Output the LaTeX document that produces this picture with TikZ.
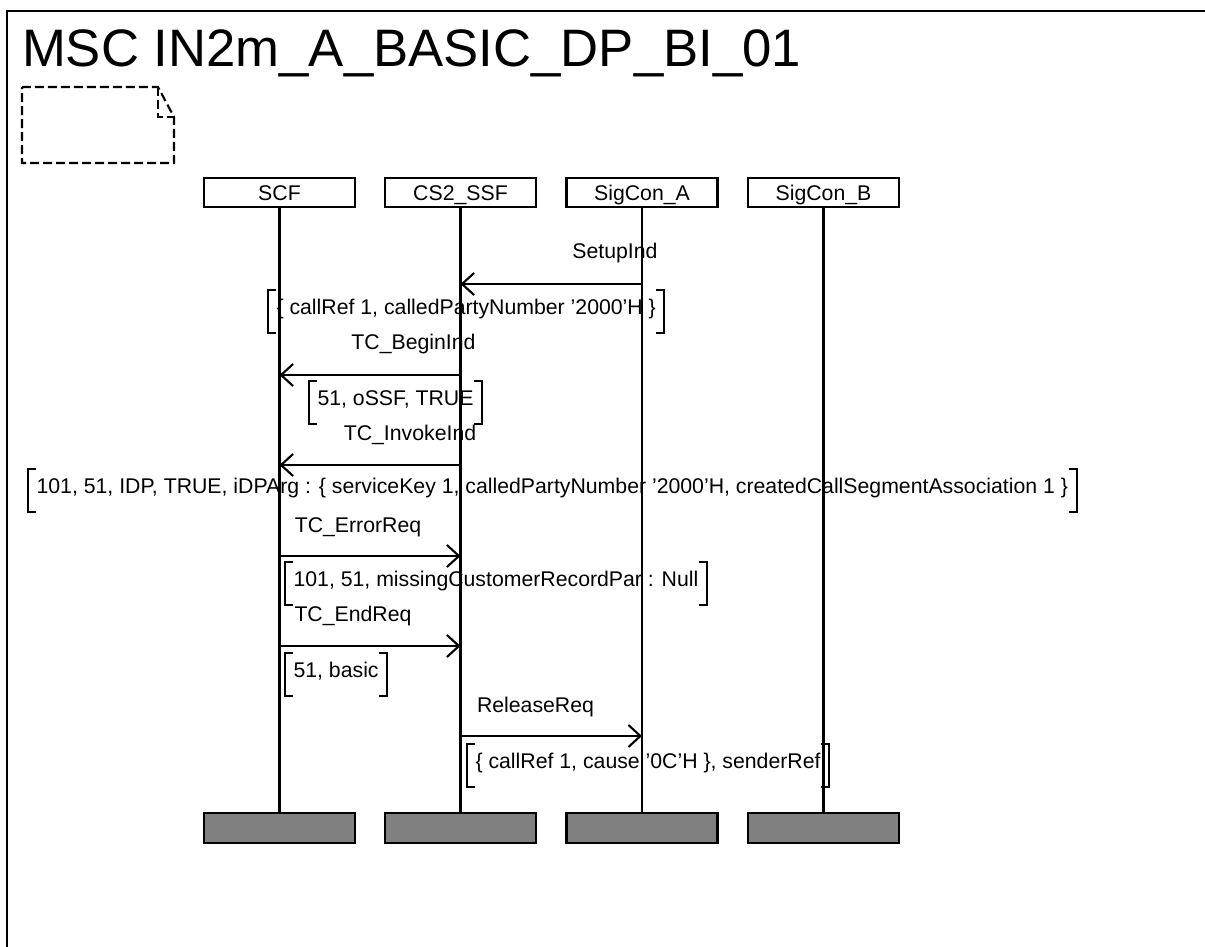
\documentclass[tikz,border=0pt]{standalone}
\usepackage{fontspec}
\setmainfont{Liberation Sans}
\usetikzlibrary{arrows.meta}

\begin{document}
\begin{tikzpicture}[x=0.02cm,y=-0.02cm,line width=1.2pt,
    every node/.style={font=\fontsize{12.1}{14}\selectfont},
    head/.style={draw,minimum width=3.02cm,minimum height=0.58cm,inner sep=0pt,text height=0.3cm,text depth=0cm},
    foot/.style={draw,fill=gray,minimum width=3.02cm,minimum height=0.6cm,inner sep=0pt},
    msg/.style={-{Straight Barb[length=0.24cm,width=0.44cm]}},
    lbl/.style={anchor=base,inner sep=0pt},
    param/.style={anchor=west,inner ysep=0pt,inner xsep=0.15cm,minimum height=0.82cm,text height=0.3cm,text depth=0.2cm},
    note/.style={dash pattern=on 0.18cm off 0.08cm}]
    \useasboundingbox (0,0) rectangle (1205,947);
    % frame and title
    \draw (7,947) -- (7,11) -- (1205,11);
    \node[anchor=base west,inner sep=0pt,font=\fontsize{30}{36}\selectfont] (title) at (21,66) {MSC IN2m\_A\_BASIC\_DP\_BI\_01};
    \draw[note] (22,87) -- (158,87) -- (174,117) -- (174,163) -- (22,163) -- cycle;
    \draw[note] (158,87) -- (158,117) -- (174,117);
    % instances
    \node[head] (scf) at (279.5,192.5) {SCF};
    \node[head] (ssf) at (460.5,192.5) {CS2\_SSF};
    \node[head] (sga) at (642,192.5) {SigCon\_A};
    \node[head] (sgb) at (823.5,192.5) {SigCon\_B};
    \node[foot] (scfend) at (279.5,828) {};
    \node[foot] (ssfend) at (460.5,828) {};
    \node[foot] (sgaend) at (642,828) {};
    \node[foot] (sgbend) at (823.5,828) {};
    \draw (scf) -- (scfend);
    \draw (ssf) -- (ssfend);
    \draw (sga) -- (sgaend);
    \draw (sgb) -- (sgbend);
    % messages
    \node[lbl] (setup) at (615,258) {SetupInd};
    \draw[msg] (sga |- 0,284) -- (ssf |- 0,284);
    \node[param] (psetup) at (268,311.5) {{\{} callRef 1, calledPartyNumber '2000'H \}};
    \node[lbl] (begin) at (413.5,349) {TC\_BeginInd};
    \draw[msg] (ssf |- 0,375) -- (scf |- 0,375);
    \node[param] (pbegin) at (309,402.5) {51, oSSF, TRUE};
    \node[lbl] (invoke) at (410,440) {TC\_InvokeInd};
    \draw[msg] (ssf |- 0,465) -- (scf |- 0,465);
    \node[param] (pinvoke) at (28,490.5) {101, 51, IDP, TRUE, iDPArg : \{ serviceKey 1, calledPartyNumber '2000'H, createdCallSegmentAssociation 1 \}};
    \node[lbl] (error) at (358,532) {TC\_ErrorReq};
    \draw[msg] (scf |- 0,556) -- (ssf |- 0,556);
    \node[param] (perror) at (285,583.5) {101, 51, missingCustomerRecordPar : Null};
    \node[lbl] (endreq) at (353,621) {TC\_EndReq};
    \draw[msg] (scf |- 0,646) -- (ssf |- 0,646);
    \node[param] (pendreq) at (285,674.5) {51, basic};
    \node[lbl] (release) at (535.5,712) {ReleaseReq};
    \draw[msg] (ssf |- 0,736) -- (sga |- 0,736);
    \node[param] (prelease) at (467,765.5) {\{ callRef 1, cause '0C'H \}, senderRef};
    % brackets round the parameters
    \foreach \p in {psetup,pbegin,pinvoke,perror,pendreq,prelease} {
      \draw ([xshift=0.16cm]\p.north west) -| (\p.south west) -- ++(8,0);
      \draw ([xshift=-0.16cm]\p.north east) -| (\p.south east) -- ++(-8,0);
    }
  \end{tikzpicture}
\end{document}
